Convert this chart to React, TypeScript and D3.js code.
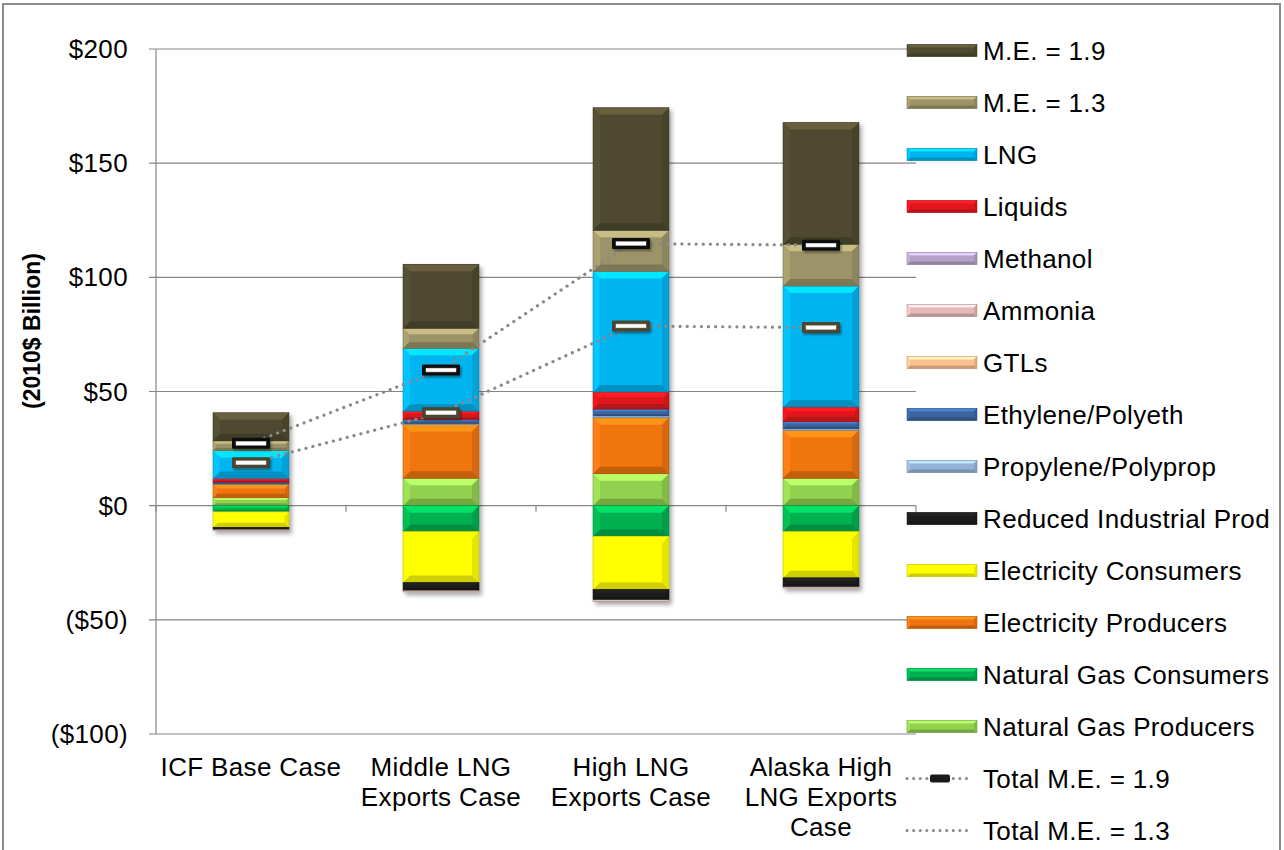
import React from "react";
import * as d3 from "d3";

const categories: string[][] = [
  ["ICF Base Case"],
  ["Middle LNG", "Exports Case"],
  ["High LNG", "Exports Case"],
  ["Alaska High", "LNG Exports", "Case"],
];

// series in stacking order (first = bottom of stack)
const seriesNames = [
  "Natural Gas Producers",
  "Natural Gas Consumers",
  "Electricity Producers",
  "Electricity Consumers",
  "Reduced Industrial Prod",
  "Propylene/Polyprop",
  "Ethylene/Polyeth",
  "GTLs",
  "Ammonia",
  "Methanol",
  "Liquids",
  "LNG",
  "M.E. = 1.3",
  "M.E. = 1.9",
];

const naturalGasProducers = [3.5, 12, 14, 12];
const naturalGasConsumers = [-2.7, -11.3, -13.4, -11.3];
const electricityProducers = [5.8, 23.5, 24.5, 21];
const electricityConsumers = [-6.8, -22.4, -23.3, -20.3];
const reducedIndustrialProd = [-1.0, -3.6, -4.6, -4.0];
const propylene = [0.2, 0.5, 0.8, 0.7];
const ethylene = [0.8, 1.8, 3.0, 3.2];
const gtls = [0, 0, 0, 0];
const ammonia = [-0.4, -0.5, -0.6, -0.5];
const methanol = [0, 0, 0, 0];
const liquids = [1.6, 3.6, 7.5, 6.3];
const lng = [12.2, 27.5, 52.8, 53];
const me13 = [4.3, 8.8, 18, 18.3];
const me19 = [12.3, 28, 53.7, 53.3];

const totalME19 = [27.3, 59.4, 114.8, 114.1];
const totalME13 = [18.8, 40.7, 78.7, 78.0];

const yTicks = [200, 150, 100, 50, 0, -50, -100];

const seriesValues = [
  naturalGasProducers,
  naturalGasConsumers,
  electricityProducers,
  electricityConsumers,
  reducedIndustrialProd,
  propylene,
  ethylene,
  gtls,
  ammonia,
  methanol,
  liquids,
  lng,
  me13,
  me19,
];

const seriesColors: Record<string, string> = {
  "Natural Gas Producers": "#92d050",
  "Natural Gas Consumers": "#00b050",
  "Electricity Producers": "#ef7411",
  "Electricity Consumers": "#ffff00",
  "Reduced Industrial Prod": "#1c1c1c",
  "Propylene/Polyprop": "#95b3d7",
  "Ethylene/Polyeth": "#3a65a0",
  GTLs: "#fac090",
  Ammonia: "#e6b9b8",
  Methanol: "#b3a2c7",
  Liquids: "#e0161c",
  LNG: "#00b4f0",
  "M.E. = 1.3": "#9c9468",
  "M.E. = 1.9": "#504a30",
};

const legendOrder = [
  "M.E. = 1.9",
  "M.E. = 1.3",
  "LNG",
  "Liquids",
  "Methanol",
  "Ammonia",
  "GTLs",
  "Ethylene/Polyeth",
  "Propylene/Polyprop",
  "Reduced Industrial Prod",
  "Electricity Consumers",
  "Electricity Producers",
  "Natural Gas Consumers",
  "Natural Gas Producers",
  "Total M.E. = 1.9",
  "Total M.E. = 1.3",
];

const FONT = "'Liberation Sans', Arial, sans-serif";
const FS = 26;
const LS = 0.35;

function Bevel({ x0, x1, y0, y1, color, maxB = 7 }: any) {
  const h = y1 - y0;
  const w = x1 - x0;
  if (h <= 0.05) return null;
  const b = Math.max(0, Math.min(maxB, h * 0.3, w * 0.2));
  const c = d3.color(color)!;
  const light = c.brighter(0.7).formatHex();
  const lightS = c.brighter(0.25).formatHex();
  const dark = c.darker(0.6).formatHex();
  const darkS = c.darker(0.3).formatHex();
  const edge = c.darker(1.0).formatHex();
  const p = (pts: number[][]) => pts.map((q) => q.join(",")).join(" ");
  return (
    <g>
      <rect x={x0} y={y0} width={w} height={h} fill={color} />
      {b > 0.3 && (
        <>
          <polygon points={p([[x0, y0], [x1, y0], [x1 - b, y0 + b], [x0 + b, y0 + b]])} fill={light} />
          <polygon points={p([[x0, y1], [x1, y1], [x1 - b, y1 - b], [x0 + b, y1 - b]])} fill={dark} />
          <polygon points={p([[x0, y0], [x0 + b, y0 + b], [x0 + b, y1 - b], [x0, y1]])} fill={lightS} />
          <polygon points={p([[x1, y0], [x1 - b, y0 + b], [x1 - b, y1 - b], [x1, y1]])} fill={darkS} />
        </>
      )}
      <rect x={x0} y={y0} width={w} height={h} fill="none" stroke={edge} strokeWidth={0.7} opacity={0.7} />
    </g>
  );
}

function Marker({ cx, cy, w, h, outer }: any) {
  return (
    <g>
      <rect x={cx - w / 2} y={cy - h / 2} width={w} height={h} fill={outer} rx={1} />
      <rect
        x={cx - w / 2 + 4}
        y={cy - h / 2 + h * 0.33}
        width={w - 8}
        height={h * 0.34}
        fill="#ffffff"
        stroke="#d9d9d9"
        strokeWidth={0.5}
      />
    </g>
  );
}

export default function App() {
  const width = 1284;
  const height = 850;
  const plotLeft = 156;
  const plotRight = 916;

  const y = d3.scaleLinear().domain([-100, 200]).range([734, 49]);
  const x = d3
    .scaleBand<number>()
    .domain(categories.map((_, i) => i))
    .range([plotLeft, plotRight])
    .paddingInner(0.6)
    .paddingOuter(0.3);

  const rows = categories.map((_, i) => {
    const r: any = { idx: i };
    seriesNames.forEach((s, k) => (r[s] = seriesValues[k][i]));
    return r;
  });
  const stack = d3
    .stack<any>()
    .keys(seriesNames)
    .order(d3.stackOrderNone)
    .offset(d3.stackOffsetDiverging);
  const stacked = stack(rows);

  const step = x.step();
  const boundaries = d3.range(categories.length + 1).map((i) => plotLeft + i * step);

  const cxOf = (i: number) => (x(i) as number) + x.bandwidth() / 2;
  const line = d3
    .line<number>()
    .x((_, i) => cxOf(i))
    .y((d) => y(d));

  const legendX = 907;
  const legendTextX = 983;
  const legendY0 = 50.5;
  const legendStep = 52;

  return (
    <svg
      width={width}
      height={height}
      style={{ position: "absolute", left: 0, top: 0, background: "#fff" }}
      fontFamily={FONT}
    >
      <defs>
        <filter id="shadow" x="-20%" y="-10%" width="140%" height="120%">
          <feDropShadow dx="2.5" dy="3" stdDeviation="2" floodColor="#000" floodOpacity="0.35" />
        </filter>
        <filter id="mshadow" x="-30%" y="-60%" width="160%" height="220%">
          <feDropShadow dx="1.5" dy="2" stdDeviation="1.2" floodColor="#000" floodOpacity="0.4" />
        </filter>
      </defs>
      <rect x={0} y={0} width={width} height={height} fill="#fff" />
      <rect x={3} y={4} width={1277} height={900} fill="none" stroke="#8c8c8c" strokeWidth={2} />

      {/* gridlines */}
      {yTicks.map((t) => (
        <line key={t} x1={plotLeft - 7} x2={plotRight} y1={y(t)} y2={y(t)} stroke="#868686" strokeWidth={1.2} />
      ))}
      <line x1={plotLeft} x2={plotLeft} y1={y(200)} y2={y(-100)} stroke="#868686" strokeWidth={1.2} />
      {boundaries.map((bx, i) => (
        <line key={i} x1={bx} x2={bx} y1={y(0)} y2={y(0) + 6} stroke="#868686" strokeWidth={1.2} />
      ))}

      {/* y tick labels */}
      {yTicks.map((t) => (
        <text key={t} x={128} y={y(t)} dy="0.35em" textAnchor="end" fontSize={FS} letterSpacing={LS} fill="#000">
          {t < 0 ? `($${Math.abs(t)})` : `$${t}`}
        </text>
      ))}

      {/* y axis title */}
      <text
        transform={`translate(40,${331}) rotate(-90)`}
        textAnchor="middle"
        fontSize={23}
        fontWeight="bold"
        fill="#000"
      >
        (2010$ Billion)
      </text>

      {/* bars */}
      {categories.map((_, i) => (
        <g key={i} filter="url(#shadow)">
          {stacked.map((s) => {
            const d = s[i];
            const top = y(Math.max(d[0], d[1]));
            const bot = y(Math.min(d[0], d[1]));
            return (
              <Bevel
                key={s.key}
                x0={x(i)}
                x1={(x(i) as number) + x.bandwidth()}
                y0={top}
                y1={bot}
                color={seriesColors[s.key]}
              />
            );
          })}
        </g>
      ))}

      {/* total lines */}
      <path d={line(totalME19) || ""} fill="none" stroke="#8a8a8a" strokeWidth={3.2} strokeDasharray="0.1 7" strokeLinecap="round" />
      <path d={line(totalME13) || ""} fill="none" stroke="#8a8a8a" strokeWidth={3.2} strokeDasharray="0.1 7" strokeLinecap="round" />
      {totalME19.map((v, i) => (
        <g key={"m19" + i} filter="url(#mshadow)">
          <Marker cx={cxOf(i)} cy={y(v)} w={38} h={11} outer="#111111" />
        </g>
      ))}
      {totalME13.map((v, i) => (
        <g key={"m13" + i} filter="url(#mshadow)">
          <Marker cx={cxOf(i)} cy={y(v)} w={38} h={11} outer="#4a4630" />
        </g>
      ))}

      {/* category labels */}
      {categories.map((lines, i) => (
        <text key={i} x={cxOf(i)} y={776} textAnchor="middle" fontSize={FS} letterSpacing={LS} fill="#000">
          {lines.map((l, k) => (
            <tspan key={k} x={cxOf(i)} dy={k === 0 ? 0 : 30}>
              {l}
            </tspan>
          ))}
        </text>
      ))}

      {/* legend */}
      {legendOrder.map((name, k) => {
        const cy = legendY0 + k * legendStep;
        let sw: any = null;
        if (name === "Total M.E. = 1.9") {
          sw = (
            <g>
              <line x1={legendX} x2={legendX + 64} y1={cy} y2={cy} stroke="#8a8a8a" strokeWidth={3} strokeDasharray="0.1 6.5" strokeLinecap="round" />
              <rect x={legendX + 23} y={cy - 4} width={20} height={8} fill="#1a1a1a" rx={2} />
            </g>
          );
        } else if (name === "Total M.E. = 1.3") {
          sw = (
            <line x1={legendX} x2={legendX + 64} y1={cy} y2={cy} stroke="#8a8a8a" strokeWidth={3} strokeDasharray="0.1 6.5" strokeLinecap="round" />
          );
        } else {
          sw = (
            <Bevel x0={legendX} x1={legendX + 70} y0={cy - 6} y1={cy + 6} color={seriesColors[name]} maxB={3} />
          );
        }
        return (
          <g key={name}>
            {sw}
            <text x={legendTextX} y={cy} dy="0.35em" fontSize={FS} letterSpacing={LS} fill="#000">
              {name}
            </text>
          </g>
        );
      })}
    </svg>
  );
}
